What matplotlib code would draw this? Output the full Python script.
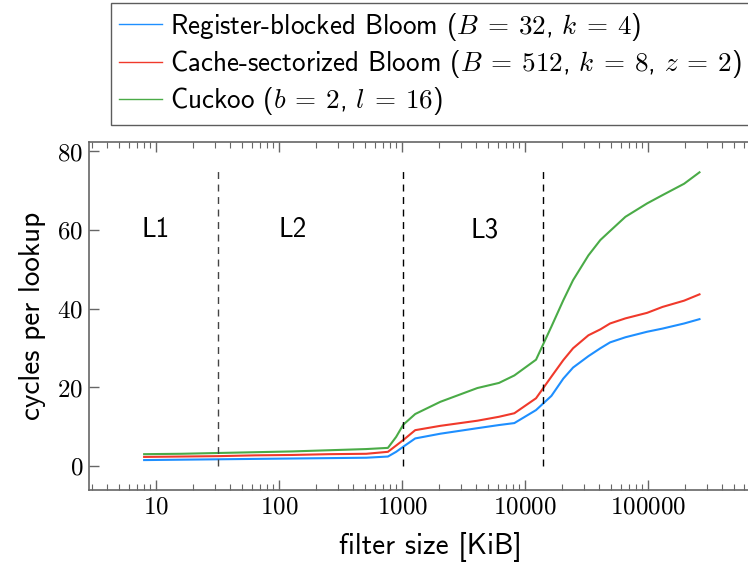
import numpy as np
import matplotlib
matplotlib.use('Agg')
import matplotlib.pyplot as plt
from matplotlib.ticker import FixedLocator, LogLocator, FuncFormatter, NullFormatter

plt.rcParams['font.family'] = ['cmss10', 'DejaVu Sans']
plt.rcParams['mathtext.fontset'] = 'cm'
plt.rcParams['axes.unicode_minus'] = False

# filter sizes in KiB
sizes = [8, 16, 32, 64, 128, 256, 512, 768, 896, 1024, 1280, 2048, 4096, 6144,
         8192, 12288, 16384, 20480, 24576, 32768, 40960, 49152, 65536, 98304,
         131072, 196608, 262144]

# cycles per lookup
register_blocked = [1.5, 1.6, 1.7, 1.8, 1.9, 2.0, 2.1, 2.4, 3.6, 4.9, 7.0, 8.2, 9.6, 10.4,
                    10.9, 14.2, 17.8, 22.2, 25.0, 27.9, 29.9, 31.4, 32.7, 34.1,
                    34.9, 36.2, 37.3]
cache_sectorized = [2.3, 2.4, 2.5, 2.7, 2.8, 3.0, 3.1, 3.6, 5.2, 6.6, 9.1, 10.2, 11.5, 12.5,
                    13.4, 17.2, 22.7, 26.9, 29.9, 33.2, 34.7, 36.2, 37.5, 38.9,
                    40.4, 42.0, 43.6]
cuckoo = [3.0, 3.1, 3.3, 3.5, 3.7, 4.0, 4.3, 4.6, 7.4, 10.5, 13.2, 16.3, 19.8, 21.1,
          23.0, 27.0, 35.4, 42.1, 47.2, 53.5, 57.4, 59.7, 63.3, 66.7,
          68.8, 71.7, 74.6]

labels = [r'Register-blocked Bloom ($B\:=\:32$, $k\:=\:4$)',
          r'Cache-sectorized Bloom ($B\:=\:512$, $k\:=\:8$, $z\:=\:2$)',
          r'Cuckoo ($b\:=\:2$, $l\:=\:16$)']
colors = ['#1e8fff', '#f0392b', '#4aab47']

# cache boundaries (KiB) and region labels
cache_bounds = [32, 1024, 14080]
regions = ['L1', 'L2', 'L3']
region_x = [10, 130, 4700]

fig = plt.figure(figsize=(7.48, 5.65), dpi=100)
ax = fig.add_axes([89/748, 75/565, 682/748, 348/565])

for ys, lab, col in zip([register_blocked, cache_sectorized, cuckoo], labels, colors):
    ax.plot(sizes, ys, color=col, lw=1.5, label=lab)

ax.vlines(cache_bounds[0], 0, 75, colors='#444444', linestyles=(0, (5, 4)), lw=1)
ax.vlines(cache_bounds[1:], 0, 75, colors='black', linestyles=(0, (5, 4)), lw=1)
for t, x in zip(regions, region_x):
    ax.text(x, 60, t, fontsize=19.5, ha='center', va='center')

ax.set_xscale('log')
ax.set_xlim(2.85, 1e6)
ax.set_ylim(-6.1, 82.3)
ax.xaxis.set_major_locator(FixedLocator([10, 100, 1000, 10000, 100000]))
ax.xaxis.set_minor_locator(LogLocator(base=10, subs=np.arange(2, 10)))
ax.xaxis.set_minor_formatter(NullFormatter())
ax.xaxis.set_major_formatter(FuncFormatter(lambda v, p: '$%d$' % int(round(v))))
ax.yaxis.set_major_locator(FixedLocator([0, 20, 40, 60, 80]))
ax.yaxis.set_major_formatter(FuncFormatter(lambda v, p: '$%d$' % int(round(v))))

for s in ax.spines.values():
    s.set_color('#666666')
    s.set_linewidth(1.2)
ax.tick_params(which='both', direction='in', top=True, right=True, colors='#666666',
               labelcolor='black', labelsize=18)
ax.tick_params(which='major', length=7, width=1, pad=4)
ax.tick_params(which='minor', length=4.5, width=0.8)

ax.set_xlabel('filter size [KiB]', fontsize=21, labelpad=10)
ax.set_ylabel('cycles per lookup', fontsize=21, labelpad=8)

leg = fig.legend(loc='upper left', bbox_to_anchor=(111/748, 1 - 3/565), fontsize=19.5,
                 handlelength=1.6, handletextpad=0.28, labelspacing=0.2,
                 borderpad=0.28, borderaxespad=0, fancybox=False, frameon=True)
leg.get_frame().set_edgecolor('#333333')
leg.get_frame().set_linewidth(1.0)
for h in leg.get_lines():
    h.set_linewidth(1.0)

fig.savefig('out.png', dpi=100)
